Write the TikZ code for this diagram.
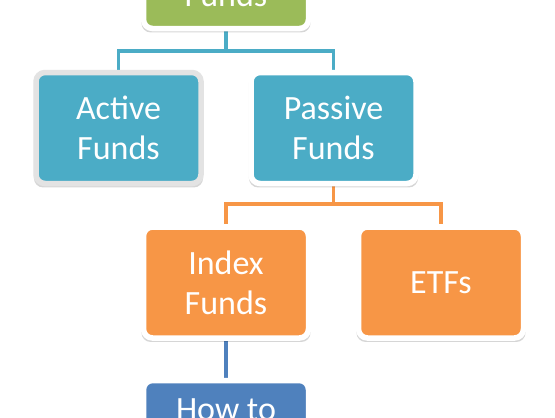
\documentclass[tikz,border=0pt]{standalone}
\usepackage{fontspec}
\setmainfont{Carlito}
\usetikzlibrary{shadows,backgrounds}
\definecolor{cgreen}{HTML}{9BBB59}
\definecolor{cteal}{HTML}{4BACC6}
\definecolor{corange}{HTML}{F79646}
\definecolor{cblue}{HTML}{4F81BD}
\definecolor{cgray}{HTML}{E3E3E3}
\begin{document}
\begin{tikzpicture}[x=1pt,y=-1pt,
  box/.style={draw=white, line width=5.5pt, rounded corners=9pt,
    minimum width=165pt, minimum height=111pt, inner sep=0pt,
    text=white, align=center, font=\fontsize{34}{40}\selectfont,
    general shadow={shadow yshift=-2.5pt, shadow scale=1.025, fill=black, opacity=0.16}},
  link/.style={line width=3.5pt}]
\useasboundingbox (0,0) rectangle (555,418);
\clip (0,0) rectangle (555,418);
\node[box, fill=cgreen] (fin) at (226,-27) {\strut\\Funds};
\node[box, fill=cteal, draw=cgray] (act) at (118.5,128) {Active\\Funds};
\node[box, fill=cteal] (pas) at (333.5,128) {Passive\\Funds};
\node[box, fill=corange] (idx) at (226,282.5) {Index\\Funds};
\node[box, fill=corange] (etf) at (441,282.5) {ETFs};
\node[box, fill=cblue] (how) at (226,436) {How to\\\strut};
\begin{pgfonlayer}{background}
  \fill[white] (0,0) rectangle (555,418);
  \coordinate (j1) at (226,51);
  \coordinate (j2) at (333.5,204);
  \draw[link, cteal] (fin.south) -- (j1) -| (act.north);
  \draw[link, cteal] (j1) -| (pas.north);
  \draw[link, corange] (pas.south) -- (j2) -| (idx.north);
  \draw[link, corange] (j2) -| (etf.north);
  \draw[link, cblue] (idx.south) -- (how.north);
\end{pgfonlayer}
\end{tikzpicture}
\end{document}
